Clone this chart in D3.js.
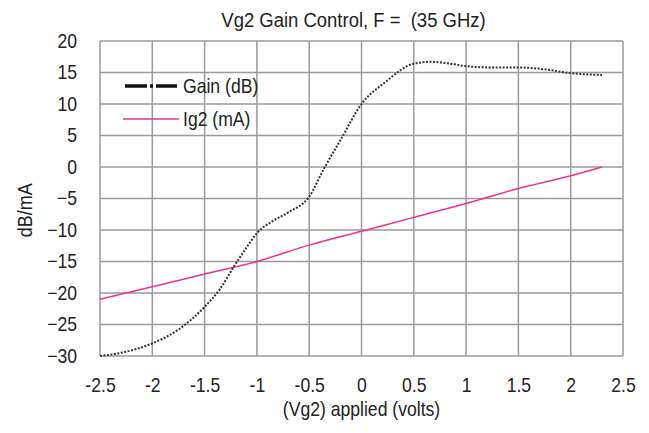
<!DOCTYPE html>
<meta charset="utf-8">
<style>
body { margin: 0; background: #fff; }
svg text {
  font-family: "Liberation Sans", Arial, sans-serif;
  fill: #222;
  transform-box: fill-box;
  transform-origin: center;
  transform: scaleX(0.88);
}
.y.axis text { transform-origin: right center; }
.legend text { transform-origin: left center; }
.ylabel { transform: rotate(-90deg) scaleX(0.9) !important; }
.title { white-space: pre; }
.grid line { stroke: #9a9a9a; stroke-width: 1.5; }
.axis path, .axis line { display: none; }
</style>
<body>
<script src="https://cdn.jsdelivr.net/npm/d3@7"></script>
<script>

var gainX = [-2.5, -2.3, -2.0, -1.75, -1.5, -1.35, -1.22, -1.1, -1.0, -0.85, -0.7, -0.5, -0.36, -0.2, 0, 0.23, 0.5, 0.67, 0.85, 1.0, 1.25, 1.5, 1.75, 2.0, 2.3];
var gainY = [-30, -29.5, -28, -25.8, -22.2, -19.3, -15.8, -12.8, -10.5, -8.6, -7.2, -4.7, -0.3, 4.3, 10, 13.5, 16.4, 16.7, 16.4, 16.0, 15.8, 15.8, 15.5, 14.9, 14.6];

var igX = [-2.5, -2.0, -1.5, -1.0, -0.5, 0, 0.5, 1.0, 1.5, 2.0, 2.3];
var igY = [-21, -19, -17, -15, -12.4, -10.2, -8, -5.8, -3.4, -1.4, 0];

var xTicks = [-2.5, -2, -1.5, -1, -0.5, 0, 0.5, 1, 1.5, 2, 2.5];
var yTicks = [20, 15, 10, 5, 0, -5, -10, -15, -20, -25, -30];

var margin = {top: 41, right: 26, bottom: 77, left: 100},
    width = 649 - margin.left - margin.right,
    height = 433 - margin.top - margin.bottom;

var svg = d3.select("body").append("svg")
    .attr("width", 649)
    .attr("height", 433)
  .append("g")
    .attr("transform", "translate(" + margin.left + "," + margin.top + ")");

var x = d3.scaleLinear().domain([-2.5, 2.5]).range([0, width]);
var y = d3.scaleLinear().domain([-30, 20]).range([height, 0]);

// grid
var grid = svg.append("g").attr("class", "grid");
grid.selectAll(".vx").data(xTicks).enter().append("line")
    .attr("x1", function(d) { return x(d); })
    .attr("x2", function(d) { return x(d); })
    .attr("y1", 0).attr("y2", height);
grid.selectAll(".hy").data(yTicks).enter().append("line")
    .attr("x1", 0).attr("x2", width)
    .attr("y1", function(d) { return y(d); })
    .attr("y2", function(d) { return y(d); });

svg.append("g")
    .attr("class", "x axis")
    .attr("transform", "translate(0," + height + ")")
    .call(d3.axisBottom(x).tickValues(xTicks).tickSize(0).tickPadding(22).tickFormat(function(d) { return d; }))
  .selectAll("text")
    .style("font-size", "20px");

svg.append("g")
    .attr("class", "y axis")
    .call(d3.axisLeft(y).tickValues(yTicks).tickSize(0).tickPadding(23))
  .selectAll("text")
    .style("font-size", "20px")
    .attr("dy", "0.3em");

var line = d3.line()
    .x(function(d) { return x(d[0]); })
    .y(function(d) { return y(d[1]); })
    .curve(d3.curveMonotoneX);

svg.append("path")
    .datum(d3.zip(igX, igY))
    .attr("fill", "none")
    .attr("stroke", "#e8338f")
    .attr("stroke-width", 1.5)
    .attr("d", line);

svg.append("path")
    .datum(d3.zip(gainX, gainY))
    .attr("fill", "none")
    .attr("stroke", "#333")
    .attr("stroke-width", 2)
    .attr("stroke-dasharray", "2,1.5")
    .attr("d", line);

// legend
var lg = svg.append("g").attr("class", "legend");
lg.append("line")
    .attr("x1", 25).attr("x2", 77).attr("y1", 45).attr("y2", 45)
    .attr("stroke", "#111").attr("stroke-width", 3.5)
    .attr("stroke-dasharray", "22,3,3,3,30");
lg.append("text").attr("x", 83).attr("y", 52).style("font-size", "20px").text("Gain (dB)");
lg.append("line")
    .attr("x1", 23).attr("x2", 79).attr("y1", 78).attr("y2", 78)
    .attr("stroke", "#e8338f").attr("stroke-width", 1.5);
lg.append("text").attr("x", 83).attr("y", 85).style("font-size", "20px").text("Ig2 (mA)");

svg.append("text")
    .attr("class", "title")
    .attr("x", width / 2 - 8)
    .attr("y", -14)
    .attr("text-anchor", "middle")
    .style("font-size", "21px")
    .text("Vg2 Gain Control, F =  (35 GHz)");

svg.append("text")
    .attr("x", width / 2)
    .attr("y", height + 60)
    .attr("text-anchor", "middle")
    .style("font-size", "20px")
    .text("(Vg2) applied (volts)");

svg.append("text")
    .attr("class", "ylabel")
    .attr("x", -75)
    .attr("y", 176)
    .attr("text-anchor", "middle")
    .style("font-size", "20px")
    .text("dB/mA");

</script>
